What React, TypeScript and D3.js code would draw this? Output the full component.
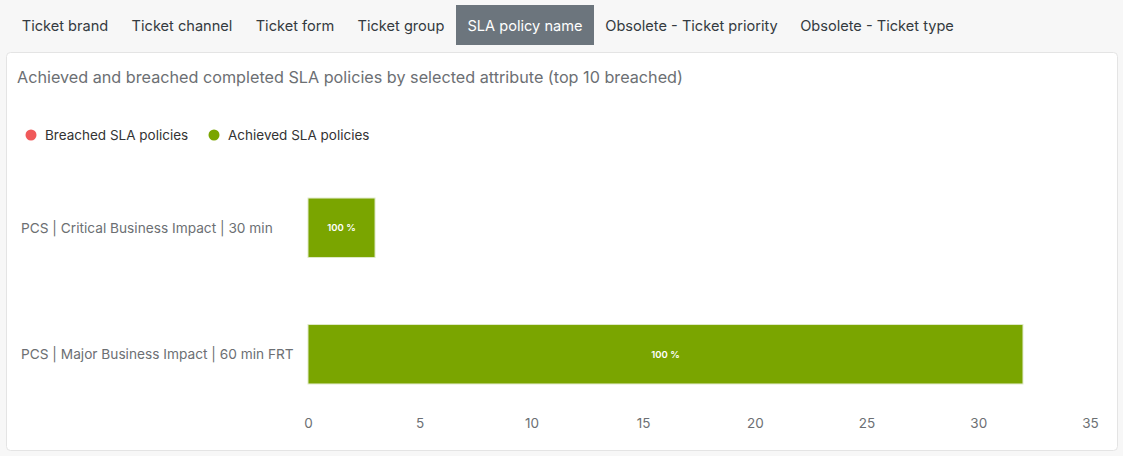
import React, { useEffect, useRef } from 'react';
import * as d3 from 'd3';

const tabs = ['Ticket brand', 'Ticket channel', 'Ticket form', 'Ticket group', 'SLA policy name', 'Obsolete - Ticket priority', 'Obsolete - Ticket type'];
const tabX = [10, 120, 244, 346, 456, 594, 789];
const activeTab = 4;

const categories = ['PCS | Critical Business Impact | 30 min', 'PCS | Major Business Impact | 60 min FRT'];
const breached = [0, 0];
const achieved = [3, 32];
const xTicks = [0, 5, 10, 15, 20, 25, 30, 35];

const legendItems = [
  { name: 'Breached SLA policies', color: '#f0595a' },
  { name: 'Achieved SLA policies', color: '#7aa500' },
];

const FONT = 'Inter, "Liberation Sans", Arial, sans-serif';

const App: React.FC = () => {
  const ref = useRef<SVGSVGElement>(null);

  useEffect(() => {
    const svg = d3.select(ref.current);
    svg.selectAll('*').remove();
    const W = 1123, H = 456;

    svg.append('rect').attr('width', W).attr('height', H).attr('fill', '#f7f7f7');

    // tabs
    const tabG = svg.append('g').attr('font-family', FONT).attr('font-size', 14.6);
    tabs.forEach((t, i) => {
      const next = i < tabs.length - 1 ? tabX[i + 1] : 965;
      if (i === activeTab) {
        tabG.append('rect').attr('x', tabX[i]).attr('y', 5).attr('width', next - tabX[i]).attr('height', 40)
          .attr('fill', '#6c757d');
      }
      tabG.append('text').attr('x', (tabX[i] + next) / 2).attr('y', 31).attr('text-anchor', 'middle')
        .attr('fill', i === activeTab ? '#ffffff' : '#343a40').text(t);
    });

    // panel
    svg.append('rect').attr('x', 6.5).attr('y', 52.5).attr('width', 1111).attr('height', 398).attr('rx', 4)
      .attr('fill', '#ffffff').attr('stroke', '#e4e4e4');

    svg.append('text').attr('x', 17).attr('y', 82.5).attr('font-family', FONT).attr('font-size', 16.2)
      .attr('fill', '#6c6f73').text('Achieved and breached completed SLA policies by selected attribute (top 10 breached)');

    // legend
    const legX = [31, 214];
    legendItems.forEach((l, i) => {
      svg.append('circle').attr('cx', legX[i]).attr('cy', 135).attr('r', 5.5).attr('fill', l.color);
      svg.append('text').attr('x', legX[i] + 14).attr('y', 140).attr('font-family', FONT).attr('font-size', 13.5)
        .attr('fill', '#333333').text(l.name);
    });

    const x = d3.scaleLinear().domain([0, 35]).range([308, 1090]);
    const y = d3.scaleBand<string>().domain(categories).range([131, 451]).padding(0.53);

    // category labels
    svg.append('g').selectAll('text').data(categories).join('text')
      .attr('x', 21).attr('y', d => (y(d) as number) + y.bandwidth() / 2 + 5)
      .attr('font-family', FONT).attr('font-size', 13.7).attr('fill', '#6c6f73').text(d => d);

    const rows = categories.map((c, i) => ({ c, b: breached[i], a: achieved[i] }));

    // breached bars
    svg.append('g').selectAll('rect').data(rows.filter(r => r.b > 0)).join('rect')
      .attr('x', x(0)).attr('y', d => y(d.c) as number)
      .attr('width', d => x(d.b) - x(0)).attr('height', y.bandwidth())
      .attr('fill', legendItems[0].color).attr('stroke', '#ffffff').attr('stroke-opacity', 0.6);

    // achieved bars
    svg.append('g').selectAll('rect').data(rows).join('rect')
      .attr('x', d => x(d.b)).attr('y', d => y(d.c) as number)
      .attr('width', d => x(d.b + d.a) - x(d.b)).attr('height', y.bandwidth())
      .attr('fill', legendItems[1].color).attr('stroke', '#dfe9c8').attr('stroke-width', 1);

    svg.append('g').selectAll('text').data(rows).join('text')
      .attr('x', d => (x(d.b) + x(d.b + d.a)) / 2)
      .attr('y', d => (y(d.c) as number) + y.bandwidth() / 2 + 3.5)
      .attr('text-anchor', 'middle').attr('font-family', FONT).attr('font-size', 9.5).attr('font-weight', 600)
      .attr('fill', '#ffffff')
      .text(d => `${Math.round((d.a / (d.a + d.b)) * 100)} %`);

    // x axis
    const axis = svg.append('g').attr('transform', 'translate(0,418)')
      .call(d3.axisBottom(x).tickValues(xTicks).tickSize(0).tickPadding(0).tickFormat(d3.format('d')));
    axis.select('.domain').remove();
    axis.selectAll('text').attr('font-family', FONT).attr('font-size', 13.5).attr('fill', '#6c6f73').attr('dy', '0.71em');
  }, []);

  return (
    <div style={{ position: 'fixed', left: 0, top: 0 }}>
      <svg ref={ref} width={1123} height={456} style={{ display: 'block' }} />
    </div>
  );
};

export default App;
